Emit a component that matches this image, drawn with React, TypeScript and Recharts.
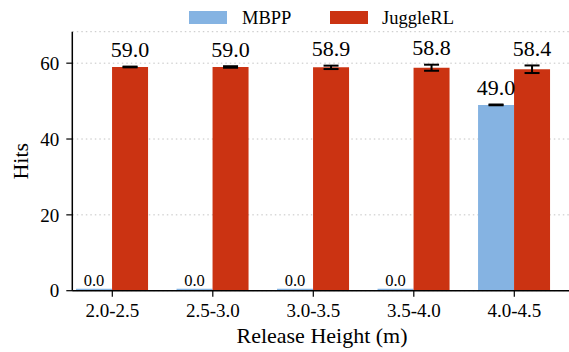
import React from 'react';
import { BarChart, Bar, XAxis, YAxis, CartesianGrid, ErrorBar, Legend } from 'recharts';

const categories = ['2.0-2.5', '2.5-3.0', '3.0-3.5', '3.5-4.0', '4.0-4.5'];
const mbppHits = [0.0, 0.0, 0.0, 0.0, 49.0];
const mbppErr: (number | null)[] = [null, null, null, null, 0.1];
const jugglerlHits = [59.0, 59.0, 58.9, 58.8, 58.4];
const jugglerlErr = [0.1, 0.2, 0.45, 0.8, 1.0];
const yTicks = [0, 20, 40, 60];

const BLUE = '#85b3e2';
const RED = '#cb3312';
const FONT = 'Liberation Serif';

const data = categories.map((cat, i) => ({
  cat,
  mbpp: mbppHits[i],
  mbppErr: mbppErr[i],
  juggle: jugglerlHits[i],
  juggleErr: jugglerlErr[i],
}));

function makeLabel(errs: (number | null)[], values: number[]) {
  return (props: any) => {
    const vb = props.viewBox || {};
    const x = props.x ?? vb.x;
    const y = props.y ?? vb.y;
    const width = props.width ?? vb.width;
    const height = props.height ?? vb.height;
    const value = Number(props.value);
    let index = props.index;
    if (index == null) index = values.indexOf(value);
    const cx = x + width / 2;
    if (!value) {
      return (
        <text key={`z${index}`} x={cx} y={y - 3} textAnchor="middle" fill="#000" fontFamily={FONT} fontSize={16.5}>
          {value.toFixed(1)}
        </text>
      );
    }
    const ppu = height / value;
    const err = errs[index] ?? 0;
    const top = y - err * ppu;
    return (
      <text key={`v${index}`} x={cx} y={top - 9.5} textAnchor="middle" fill="#000" fontFamily={FONT} fontSize={22}>
        {value.toFixed(1)}
      </text>
    );
  };
}

const LegendContent = () => (
  <div style={{ position: 'relative', height: 0, width: '100%' }}>
    <div style={{ position: 'absolute', left: 189, top: 10.7, width: 38, height: 13, background: BLUE }} />
    <div style={{ position: 'absolute', left: 242, top: 8.5, fontSize: 18.5, lineHeight: 1, fontFamily: FONT, whiteSpace: 'nowrap', color: '#000' }}>MBPP</div>
    <div style={{ position: 'absolute', left: 330, top: 10.7, width: 38, height: 13, background: RED }} />
    <div style={{ position: 'absolute', left: 382, top: 8.5, fontSize: 18.5, lineHeight: 1, fontFamily: FONT, whiteSpace: 'nowrap', color: '#000' }}>JuggleRL</div>
  </div>
);

const tickStyle = { fontSize: 19, fill: '#000', fontFamily: FONT };

export default function App() {
  return (
    <div style={{ position: 'absolute', left: 0, top: 0, width: 569, height: 352, overflow: 'hidden', background: '#fff' }}>
      <BarChart
        width={572}
        height={352}
        data={data}
        margin={{ top: 31.7, right: 0, bottom: 31.3, left: 12.3 }}
        barGap={0}
      >
        <CartesianGrid vertical={false} stroke="#c4c4c4" strokeDasharray="1.5 3" />
        <XAxis
          dataKey="cat"
          height={30}
          padding={{ left: -10.25, right: 7.45 }}
          axisLine={{ stroke: '#000', strokeWidth: 1.5 }}
          tickLine={{ stroke: '#000', strokeWidth: 1.2 }}
          tickSize={6}
          tickMargin={7}
          tick={tickStyle}
          interval={0}
          label={() => (
            <text x={322} y={343} textAnchor="middle" fill="#000" fontFamily={FONT} fontSize={22}>
              Release Height (m)
            </text>
          )}
        />
        <YAxis
          width={60}
          domain={[0, 68.3]}
          ticks={yTicks}
          axisLine={{ stroke: '#000', strokeWidth: 1.5 }}
          tickLine={{ stroke: '#000', strokeWidth: 1.2 }}
          tickSize={6}
          tickMargin={7}
          tick={tickStyle}
          label={(p: any) => {
            const vb = p.viewBox || { x: 12.3, y: 31.7, width: 60, height: 259 };
            const cx = 28;
            const cy = vb.y + vb.height / 2;
            return (
              <text x={cx} y={cy} transform={`rotate(-90 ${cx} ${cy})`} textAnchor="middle" fill="#000" fontFamily={FONT} fontSize={22}>
                Hits
              </text>
            );
          }}
        />
        <Legend verticalAlign="top" content={<LegendContent />} wrapperStyle={{ position: 'absolute', top: 0, left: 0, width: 572, height: 0 }} />
        <Bar dataKey="mbpp" name="MBPP" fill={BLUE} barSize={36} minPointSize={2} isAnimationActive={false} label={makeLabel(mbppErr, mbppHits)}>
          <ErrorBar dataKey="mbppErr" width={7.5} stroke="#000" strokeWidth={2} />
        </Bar>
        <Bar dataKey="juggle" name="JuggleRL" fill={RED} barSize={36} isAnimationActive={false} label={makeLabel(jugglerlErr, jugglerlHits)}>
          <ErrorBar dataKey="juggleErr" width={7.5} stroke="#000" strokeWidth={2} />
        </Bar>
      </BarChart>
    </div>
  );
}
